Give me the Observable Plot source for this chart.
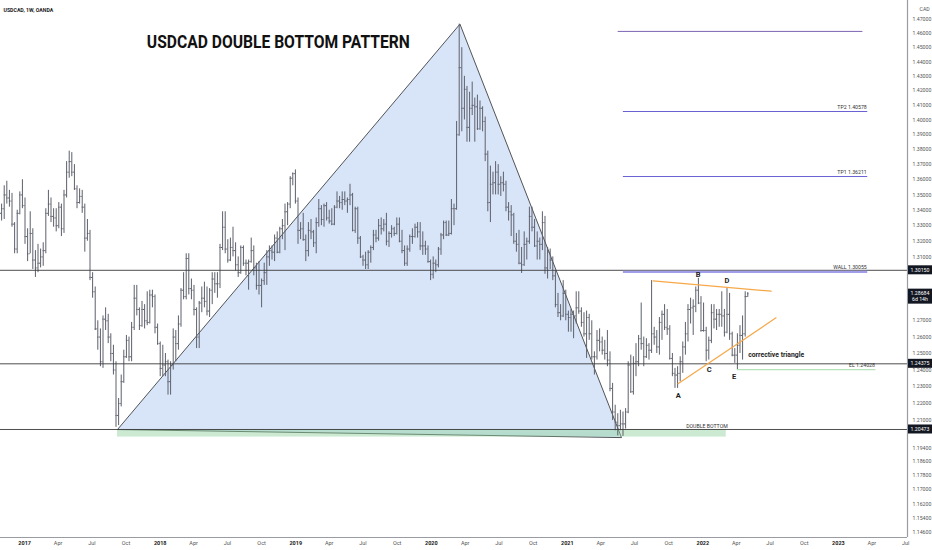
<!DOCTYPE html>
<html>
<head>
<meta charset="utf-8">
<script src="https://cdn.jsdelivr.net/npm/d3@7"></script>
<script src="https://cdn.jsdelivr.net/npm/@observablehq/plot@0.6"></script>
<style>
  html, body { margin: 0; padding: 0; background: #ffffff; }
  #chart svg { display: block; background: #ffffff; }
</style>
</head>
<body>
<div id="chart"></div>
<script>
// ---------- weekly OHLC (USDCAD, 1W, OANDA), first week starts 2016-10-31 ----------
const firstWeek = "2016-10-31";
const open = [
1.3380,1.3410,1.3500,1.3480,1.3460,1.3310,1.3150,1.3380,1.3500,
1.3430,1.3230,1.3120,1.3250,1.3080,1.3030,1.3060,1.3100,1.3140,1.3380,1.3440,1.3360,1.3350,1.3300,1.3420,1.3280,1.3500,1.3650,1.3720,1.3650,1.3540,1.3450,1.3490,1.3420,1.3220,1.3250,1.2970,1.2880,1.2650,1.2600,1.2450,1.2710,1.2700,1.2600,1.2500,1.2400,1.2130,1.2200,1.2330,1.2480,1.2580,1.2480,1.2660,1.2840,1.2770,1.2670,1.2770,1.2700,1.2690,1.2860,1.2850,1.2660,
1.2560,1.2410,1.2430,1.2450,1.2330,1.2430,1.2600,1.2560,1.2680,1.2890,1.2850,1.3090,1.2900,1.2890,1.2770,1.2600,1.2810,1.2840,1.2820,1.2760,1.2890,1.2960,1.2930,1.2930,1.3160,1.3290,1.3150,1.3080,1.3160,1.3140,1.3050,1.3000,1.3160,1.3060,1.3060,1.3070,1.3140,1.3030,1.2920,1.2920,1.2950,1.3000,1.3100,1.3140,1.3130,1.3220,1.3130,1.3280,1.3300,1.3390,1.3440,1.3610,1.3640,
1.3460,1.3270,1.3280,1.3210,1.3140,1.3270,1.3260,1.3190,1.3320,1.3410,1.3340,1.3430,1.3350,1.3330,1.3310,1.3420,1.3460,1.3450,1.3470,1.3460,1.3470,1.3500,1.3270,1.3410,1.3220,1.3100,1.3080,1.3050,1.3130,1.3160,1.3240,1.3220,1.3300,1.3280,1.3310,1.3200,1.3250,1.3280,1.3250,1.3310,1.3200,1.3140,1.3060,1.3150,1.3230,1.3230,1.3290,1.3260,1.3170,1.3170,1.3150,1.3070,
1.2990,1.3060,1.3050,1.3150,1.3240,1.3320,1.3240,1.3250,1.3410,1.3410,1.3900,1.4360,1.4080,1.4210,1.3950,1.4080,1.4100,1.4090,1.3940,1.4080,1.3990,1.3770,1.3450,1.3570,1.3580,1.3650,1.3570,1.3580,1.3570,1.3420,1.3390,1.3370,1.3200,1.3180,1.3060,1.3050,1.3180,1.3200,1.3360,1.3290,1.3170,1.3200,1.3180,1.3320,1.3030,1.3130,1.3080,1.2980,1.2800,1.2750,1.2730,1.2870,
1.2740,1.2720,1.2740,1.2730,1.2780,1.2760,1.2690,1.2620,1.2720,1.2620,1.2480,1.2480,1.2580,1.2570,1.2520,1.2500,1.2460,1.2290,1.2150,1.2090,1.2070,1.2080,1.2080,1.2150,1.2430,1.2270,1.2440,1.2450,1.2590,1.2560,1.2480,1.2550,1.2520,1.2620,1.2600,1.2540,1.2690,1.2740,1.2660,1.2650,1.2470,1.2380,1.2370,1.2380,1.2450,1.2540,1.2620,1.2770,1.2780,1.2790,1.2890,1.2810,
1.2640,1.2640,1.2520,1.2580,1.2750,1.2710,1.2740,1.2740,1.2730,1.2630,1.2740,1.2620,1.2490,1.2490,1.2550,1.2610,1.2620,1.2850
];
const high = [
1.3440,1.3560,1.3590,1.3530,1.3510,1.3320,1.3400,1.3520,1.3600,
1.3480,1.3280,1.3390,1.3280,1.3140,1.3180,1.3150,1.3190,1.3410,1.3530,1.3480,1.3410,1.3410,1.3450,1.3440,1.3530,1.3720,1.3790,1.3780,1.3700,1.3560,1.3540,1.3530,1.3440,1.3340,1.3270,1.3000,1.2910,1.2700,1.2650,1.2730,1.2780,1.2740,1.2620,1.2550,1.2450,1.2230,1.2370,1.2520,1.2610,1.2600,1.2690,1.2920,1.2920,1.2780,1.2820,1.2800,1.2880,1.2890,1.2890,1.2860,1.2680,
1.2570,1.2550,1.2500,1.2460,1.2450,1.2650,1.2640,1.2730,1.2900,1.3000,1.3120,1.3120,1.2960,1.2920,1.2780,1.2820,1.2910,1.2940,1.2910,1.2900,1.3000,1.3000,1.3000,1.3180,1.3390,1.3390,1.3210,1.3220,1.3290,1.3190,1.3100,1.3170,1.3170,1.3080,1.3080,1.3220,1.3170,1.3060,1.3070,1.2960,1.3060,1.3140,1.3170,1.3170,1.3240,1.3260,1.3290,1.3340,1.3440,1.3450,1.3620,1.3645,1.3665,
1.3480,1.3320,1.3380,1.3240,1.3320,1.3340,1.3270,1.3350,1.3470,1.3430,1.3440,1.3450,1.3400,1.3410,1.3430,1.3520,1.3490,1.3520,1.3520,1.3480,1.3570,1.3510,1.3420,1.3420,1.3230,1.3110,1.3130,1.3140,1.3170,1.3270,1.3270,1.3340,1.3350,1.3340,1.3380,1.3260,1.3300,1.3290,1.3350,1.3350,1.3270,1.3170,1.3170,1.3240,1.3280,1.3310,1.3320,1.3320,1.3260,1.3200,1.3170,1.3080,
1.3100,1.3080,1.3160,1.3250,1.3330,1.3330,1.3330,1.3470,1.3440,1.3990,1.4667,1.4500,1.4300,1.4230,1.4190,1.4260,1.4150,1.4170,1.4130,1.4090,1.4020,1.3790,1.3690,1.3650,1.3720,1.3700,1.3620,1.3650,1.3590,1.3450,1.3430,1.3380,1.3250,1.3270,1.3160,1.3260,1.3220,1.3420,1.3420,1.3340,1.3260,1.3220,1.3390,1.3360,1.3160,1.3150,1.3100,1.3010,1.2870,1.2800,1.2950,1.2890,
1.2760,1.2770,1.2760,1.2880,1.2880,1.2780,1.2750,1.2760,1.2740,1.2700,1.2510,1.2640,1.2650,1.2600,1.2580,1.2640,1.2510,1.2320,1.2190,1.2140,1.2160,1.2150,1.2170,1.2450,1.2490,1.2480,1.2560,1.2610,1.2810,1.2600,1.2590,1.2560,1.2950,1.2660,1.2640,1.2720,1.2760,1.2800,1.2770,1.2670,1.2500,1.2410,1.2420,1.2480,1.2570,1.2690,1.2800,1.2840,1.2830,1.2910,1.2964,1.2850,
1.2810,1.2660,1.2600,1.2800,1.2800,1.2770,1.2770,1.2880,1.2770,1.2900,1.2870,1.2630,1.2530,1.2620,1.2670,1.2730,1.2880,1.2875
];
const low = [
1.3330,1.3340,1.3440,1.3420,1.3290,1.3120,1.3120,1.3370,1.3410,
1.3180,1.3070,1.3120,1.3020,1.2970,1.3000,1.3030,1.3040,1.3120,1.3360,1.3320,1.3290,1.3260,1.3280,1.3230,1.3250,1.3480,1.3610,1.3620,1.3530,1.3410,1.3440,1.3380,1.3130,1.3200,1.2950,1.2840,1.2640,1.2520,1.2420,1.2410,1.2640,1.2560,1.2450,1.2370,1.2060,1.2070,1.2180,1.2320,1.2470,1.2450,1.2450,1.2640,1.2730,1.2640,1.2660,1.2650,1.2670,1.2680,1.2780,1.2620,1.2550,
1.2360,1.2360,1.2360,1.2250,1.2250,1.2400,1.2450,1.2520,1.2660,1.2830,1.2830,1.2860,1.2830,1.2730,1.2530,1.2530,1.2750,1.2780,1.2730,1.2720,1.2800,1.2870,1.2840,1.2900,1.3140,1.3120,1.3060,1.3070,1.3100,1.3010,1.2970,1.2990,1.3040,1.2980,1.2890,1.3060,1.2980,1.2890,1.2860,1.2780,1.2920,1.2920,1.3040,1.3080,1.3070,1.3120,1.3120,1.3210,1.3140,1.3300,1.3410,1.3560,1.3440,
1.3180,1.3210,1.3200,1.3070,1.3100,1.3210,1.3160,1.3120,1.3290,1.3300,1.3290,1.3330,1.3310,1.3300,1.3300,1.3410,1.3410,1.3400,1.3430,1.3380,1.3430,1.3260,1.3250,1.3180,1.3090,1.3040,1.3020,1.3020,1.3060,1.3140,1.3190,1.3200,1.3240,1.3260,1.3170,1.3160,1.3220,1.3230,1.3240,1.3190,1.3120,1.3040,1.3040,1.3130,1.3180,1.3220,1.3220,1.3140,1.3110,1.3110,1.3060,1.2950,
1.2960,1.3000,1.3030,1.3110,1.3210,1.3230,1.3230,1.3240,1.3300,1.3400,1.3890,1.3920,1.4000,1.3850,1.3850,1.4030,1.3850,1.3930,1.3930,1.3920,1.3720,1.3390,1.3320,1.3500,1.3500,1.3500,1.3490,1.3520,1.3390,1.3330,1.3230,1.3180,1.3130,1.3050,1.2995,1.3040,1.3080,1.3180,1.3260,1.3160,1.3080,1.3080,1.3140,1.2990,1.2960,1.3020,1.2950,1.2780,1.2720,1.2700,1.2720,1.2700,
1.2630,1.2630,1.2590,1.2680,1.2740,1.2660,1.2600,1.2470,1.2580,1.2460,1.2370,1.2460,1.2510,1.2490,1.2460,1.2420,1.2270,1.2100,1.2040,1.2010,1.2040,1.2007,1.2050,1.2140,1.2260,1.2250,1.2360,1.2420,1.2520,1.2420,1.2470,1.2460,1.2500,1.2550,1.2500,1.2490,1.2580,1.2640,1.2610,1.2460,1.2360,1.2290,1.2290,1.2330,1.2380,1.2490,1.2570,1.2680,1.2610,1.2750,1.2800,1.2630,
1.2630,1.2450,1.2460,1.2560,1.2650,1.2640,1.2660,1.2660,1.2600,1.2620,1.2580,1.2480,1.2440,1.2403,1.2500,1.2460,1.2600,1.2845
];
const close = [
1.3410,1.3500,1.3480,1.3460,1.3310,1.3150,1.3380,1.3500,1.3430,
1.3230,1.3120,1.3250,1.3080,1.3030,1.3060,1.3100,1.3140,1.3380,1.3440,1.3360,1.3350,1.3300,1.3420,1.3280,1.3500,1.3650,1.3720,1.3650,1.3540,1.3450,1.3490,1.3420,1.3220,1.3250,1.2970,1.2880,1.2650,1.2600,1.2450,1.2710,1.2700,1.2600,1.2500,1.2400,1.2130,1.2200,1.2330,1.2480,1.2580,1.2480,1.2660,1.2840,1.2770,1.2670,1.2770,1.2700,1.2690,1.2860,1.2850,1.2660,1.2560,
1.2410,1.2430,1.2450,1.2330,1.2430,1.2600,1.2560,1.2680,1.2890,1.2850,1.3090,1.2900,1.2890,1.2770,1.2600,1.2810,1.2840,1.2820,1.2760,1.2890,1.2960,1.2930,1.2930,1.3160,1.3290,1.3150,1.3080,1.3160,1.3140,1.3050,1.3000,1.3160,1.3060,1.3060,1.3070,1.3140,1.3030,1.2920,1.2920,1.2950,1.3000,1.3100,1.3140,1.3130,1.3220,1.3130,1.3280,1.3300,1.3390,1.3440,1.3610,1.3640,1.3460,
1.3270,1.3280,1.3210,1.3140,1.3270,1.3260,1.3190,1.3320,1.3410,1.3340,1.3430,1.3350,1.3330,1.3310,1.3420,1.3460,1.3450,1.3470,1.3460,1.3470,1.3500,1.3270,1.3410,1.3220,1.3100,1.3080,1.3050,1.3130,1.3160,1.3240,1.3220,1.3300,1.3280,1.3310,1.3200,1.3250,1.3280,1.3250,1.3310,1.3200,1.3140,1.3060,1.3150,1.3230,1.3230,1.3290,1.3260,1.3170,1.3170,1.3150,1.3070,1.2990,
1.3060,1.3050,1.3150,1.3240,1.3320,1.3240,1.3250,1.3410,1.3410,1.3900,1.4360,1.4080,1.4210,1.3950,1.4080,1.4100,1.4090,1.3940,1.4080,1.3990,1.3770,1.3450,1.3570,1.3580,1.3650,1.3570,1.3580,1.3570,1.3420,1.3390,1.3370,1.3200,1.3180,1.3060,1.3050,1.3180,1.3200,1.3360,1.3290,1.3170,1.3200,1.3180,1.3320,1.3030,1.3130,1.3080,1.2980,1.2800,1.2750,1.2730,1.2870,1.2740,
1.2720,1.2740,1.2730,1.2780,1.2760,1.2690,1.2620,1.2720,1.2620,1.2480,1.2480,1.2580,1.2570,1.2520,1.2500,1.2460,1.2290,1.2150,1.2090,1.2070,1.2080,1.2080,1.2150,1.2430,1.2270,1.2440,1.2450,1.2590,1.2560,1.2480,1.2550,1.2520,1.2620,1.2600,1.2540,1.2690,1.2740,1.2660,1.2650,1.2470,1.2380,1.2370,1.2380,1.2450,1.2540,1.2620,1.2770,1.2780,1.2790,1.2890,1.2810,1.2640,
1.2640,1.2520,1.2580,1.2750,1.2710,1.2740,1.2740,1.2730,1.2630,1.2740,1.2620,1.2490,1.2490,1.2550,1.2610,1.2620,1.2850,1.2868
];

// ---------- levels & drawings ----------
const hLevels = [1.30150, 1.24375, 1.20473];              // full-width black lines (axis boxes)
const lastPrice = 1.28684, lastPriceTimer = "6d 14h";
const targetLines = [
  {name: "", price: 1.4615, from: "2021-05-18", to: "2023-03-08", color: "#7b66b3", w: 1},
  {name: "TP2 1.40578", price: 1.40578, from: "2021-06-01", to: "2023-03-21", color: "#6a62d2", w: 1},
  {name: "TP1 1.36211", price: 1.36211, from: "2021-06-01", to: "2023-03-21", color: "#6a62d2", w: 1},
  {name: "WALL 1.30055", price: 1.30055, from: "2021-06-01", to: "2023-03-21", color: "#a29de8", w: 2.2},
  {name: "EL 1.24028", price: 1.24028, from: "2022-04-04", to: "2023-04-12", color: "#b5e2b7", w: 1.3}
];
const patternDates = ["2017-09-08", "2020-03-18", "2021-05-27", "2017-09-08"];
const patternPrices = [1.2047, 1.4667, 1.2000, 1.2047];
const bottomZone = {from: "2017-09-08", to: "2022-03-05", top: 1.2047, bottom: 1.2003};
const trianglUpper = {dates: ["2021-08-20", "2022-07-04"], prices: [1.2948, 1.2884]};
const triangleLower = {dates: ["2021-10-26", "2022-07-17"], prices: [1.2318, 1.2718]};
const waveLabels = ["A", "B", "C", "D", "E"];
const waveDates = ["2021-10-27", "2021-12-19", "2022-01-18", "2022-03-07", "2022-03-26"];
const wavePrices = [1.2248, 1.2989, 1.2403, 1.2951, 1.2361];
const notes = [
  {text: "corrective triangle", date: "2022-05-03", price: 1.2494},
  {text: "DOUBLE BOTTOM", date: "2022-01-12", price: 1.2065}
];
const titleText = "USDCAD DOUBLE BOTTOM PATTERN";
const titleDate = "2018-11-15", titlePrice = 1.4537;
const headerText = "USDCAD, 1W, OANDA";
const yTicks = [1.47,1.46,1.45,1.44,1.43,1.42,1.41,1.40,1.39,1.38,1.37,1.36,1.35,1.34,1.33,1.32,1.31,
                1.27,1.26,1.25,1.24,1.23,1.22,1.21,1.194,1.186,1.178,1.170,1.162,1.154,1.146];
const yearTicks = ["2017","2018","2019","2020","2021","2022","2023"];
const monthTicks = ["2017-04","2017-07","2017-10","2018-04","2018-07","2018-10","2019-04","2019-07","2019-10",
                    "2020-04","2020-07","2020-10","2021-04","2021-07","2021-10","2022-04","2022-07","2022-10",
                    "2023-04","2023-07"];
const xDomain = ["2016-10-28", "2023-07-06"];
const yDomain = [1.1432, 1.4836];

// ---------- build ----------
const P = s => new Date(s + (s.length === 4 ? "-01-01" : s.length === 7 ? "-01" : "") + "T00:00:00Z");
const start = P(firstWeek);
const bars = open.map((o, i) => ({date: d3.utcDay.offset(start, 7 * i), open: o, high: high[i], low: low[i], close: close[i]}));
const tri = patternDates.map((d, i) => ({date: P(d), price: patternPrices[i]}));
const upper = trianglUpper.dates.map((d, i) => ({date: P(d), price: trianglUpper.prices[i]}));
const lower = triangleLower.dates.map((d, i) => ({date: P(d), price: triangleLower.prices[i]}));
const waves = waveLabels.map((t, i) => ({text: t, date: P(waveDates[i]), price: wavePrices[i]}));
const tLines = targetLines.map(d => ({...d, x1: P(d.from), x2: P(d.to)}));

const font = "Roboto, 'Noto Sans', sans-serif";
const barColor = "#5d606b";

const plot = Plot.plot({
  width: 932, height: 550,
  marginLeft: 0, marginRight: 25, marginTop: 0, marginBottom: 13,
  style: {fontFamily: font, background: "#ffffff", overflow: "visible"},
  x: {type: "utc", domain: xDomain.map(P), axis: null},
  y: {type: "log", domain: yDomain, axis: null},
  marks: [
    // pattern triangle
    Plot.line(tri, {x: "date", y: "price", fill: "#d8e5f9", stroke: "#2b2b2b", strokeWidth: 0.8}),
    // double bottom zone
    Plot.rect([bottomZone], {x1: d => P(d.from), x2: d => P(d.to), y1: "bottom", y2: "top", fill: "#8fd19a", fillOpacity: 0.45}),
    // OHLC bars
    Plot.ruleX(bars, {x: "date", y1: "low", y2: "high", stroke: barColor, strokeWidth: 1}),
    Plot.ruleY(bars, {y: "open", x1: d => d3.utcDay.offset(d.date, -3), x2: "date", stroke: barColor, strokeWidth: 1}),
    Plot.ruleY(bars, {y: "close", x1: "date", x2: d => d3.utcDay.offset(d.date, 3), stroke: barColor, strokeWidth: 1}),
    // horizontal levels
    Plot.ruleY(hLevels, {stroke: "#3a3a3a", strokeWidth: 0.9}),
    // target lines
    Plot.ruleY(tLines, {y: "price", x1: "x1", x2: "x2", stroke: "color", strokeWidth: "w"}),
    Plot.text(tLines.filter(d => d.name), {x: "x2", y: "price", text: "name", textAnchor: "end", dx: -1, dy: -4.5,
      fontSize: 5.2, fill: "#333"}),
    // triangle lines
    Plot.line(upper, {x: "date", y: "price", stroke: "#f6a849", strokeWidth: 1.2}),
    Plot.line(lower, {x: "date", y: "price", stroke: "#f6a849", strokeWidth: 1.2}),
    // wave labels
    Plot.text(waves, {x: "date", y: "price", text: "text", fontSize: 7.5, fontWeight: "bold", fill: "#1d1d1d"}),
    Plot.text(notes.slice(0, 1), {x: d => P(d.date), y: "price", text: "text", textAnchor: "start", fontSize: 7.2, fontWeight: "bold", fill: "#1d1d1d"}),
    Plot.text(notes.slice(1), {x: d => P(d.date), y: "price", text: "text", fontSize: 5.2, fill: "#333"}),
    // title
    Plot.text([titleText], {x: () => P(titleDate), y: () => titlePrice, text: d => d, fontSize: 18, fontWeight: "bold", fill: "#111"}),
    Plot.text([headerText], {frameAnchor: "top-left", dx: 3, dy: 7.5, text: d => d, textAnchor: "start", fontSize: 5.2, fontWeight: "bold", fill: "#222"}),
    Plot.text(["CAD"], {frameAnchor: "top-right", dx: 12, dy: 7, text: d => d, textAnchor: "start", fontSize: 5.2, fill: "#555"}),
    // axes
    Plot.ruleY([yDomain[0]], {stroke: "#9a9ca3", strokeWidth: 1.2}),
    Plot.ruleX([P(xDomain[1])], {stroke: "#9a9ca3", strokeWidth: 1.2}),
    Plot.axisY(yTicks, {anchor: "right", tickSize: 0, tickPadding: 5, tickFormat: d3.format(".5f"), fontSize: 5.2, fill: "#555"}),
    Plot.axisX(yearTicks.map(P), {anchor: "bottom", tickSize: 0, tickPadding: 3.5, tickFormat: d3.utcFormat("%Y"), fontSize: 5.5, fontWeight: "bold", fill: "#222"}),
    Plot.axisX(monthTicks.map(P), {anchor: "bottom", tickSize: 0, tickPadding: 3.5, tickFormat: d3.utcFormat("%b"), fontSize: 5.5, fill: "#555"})
  ]
});

const svg = d3.select(plot);
// compress title like the condensed original
svg.selectAll("text").filter(function () { return this.textContent === titleText; })
  .attr("textLength", 263).attr("lengthAdjust", "spacingAndGlyphs");
svg.selectAll("text").filter(function () { return this.textContent === "corrective triangle"; })
  .attr("textLength", 56).attr("lengthAdjust", "spacingAndGlyphs");

// price boxes on the right scale
const ys = plot.scale("y");
const axisX0 = 907;
const g = svg.append("g").attr("font-family", font);
function box(price, lines) {
  const h = lines.length === 1 ? 9 : 15;
  const yc = ys.apply(price) + (lines.length === 1 ? 0 : 3);
  g.append("rect").attr("x", axisX0 + 1).attr("y", yc - h / 2).attr("width", 24).attr("height", h).attr("fill", "#131722");
  lines.forEach((t, i) => {
    g.append("text").attr("x", axisX0 + 13).attr("y", yc - (lines.length - 1) * 3.2 + i * 6.4)
      .attr("dy", "0.35em").attr("text-anchor", "middle").attr("font-size", 5.2).attr("fill", "#fff").text(t);
  });
}
hLevels.forEach(p => box(p, [d3.format(".5f")(p)]));
box(lastPrice, [d3.format(".5f")(lastPrice), lastPriceTimer]);

document.getElementById("chart").appendChild(plot);
</script>
</body>
</html>
